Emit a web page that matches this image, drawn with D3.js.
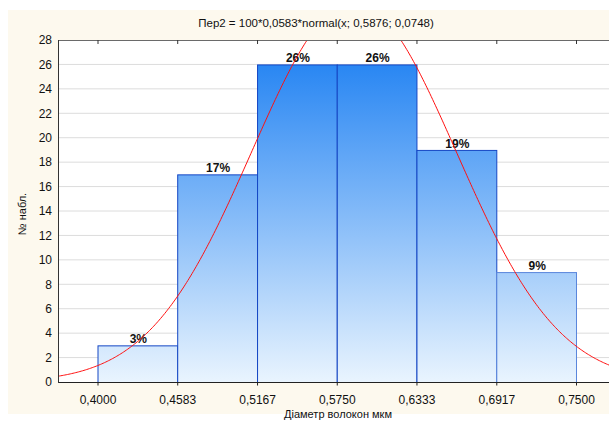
<!DOCTYPE html>
<html>
<head>
<meta charset="utf-8">
<script src="https://cdn.jsdelivr.net/npm/d3@7"></script>
<style>
  body { margin: 0; background: #fff; }
  svg { display: block; font-family: 'Liberation Sans', Arial, sans-serif; }
</style>
</head>
<body>
<div id="chart"></div>
<script>
// histogram bins (left edges) and counts
const binEdges = [0.4000, 0.4583, 0.5167, 0.5750, 0.6333, 0.6917, 0.7500]
const counts = [3, 17, 26, 26, 19, 9]
const percents = ['3%', '17%', '26%', '26%', '19%', '9%']
const xTickLabels = ['0,4000', '0,4583', '0,5167', '0,5750', '0,6333', '0,6917', '0,7500']
const yTicks = [0, 2, 4, 6, 8, 10, 12, 14, 16, 18, 20, 22, 24, 26, 28]

// fitted normal from the title
const fitN = 100
const fitWidth = 0.0583
const fitMean = 0.5876
const fitSd = 0.0748

const titleText = 'Пер2 = 100*0,0583*normal(x; 0,5876; 0,0748)'
const xTitle = 'Діаметр волокон мкм'
const yTitle = '№ набл.'

const w = 609
const h = 421
const plot = { left: 58, top: 40, right: 609, bottom: 382 }

const svg = d3.select('#chart').append('svg')
  .attr('width', w)
  .attr('height', h)

const defs = svg.append('defs')
const grad = defs.append('linearGradient')
  .attr('id', 'barGrad')
  .attr('gradientUnits', 'userSpaceOnUse')
  .attr('x1', 0).attr('x2', 0)
  .attr('y1', plot.top).attr('y2', plot.bottom)
grad.append('stop').attr('offset', '0%').attr('stop-color', '#1a7ef2')
grad.append('stop').attr('offset', '100%').attr('stop-color', '#e9f4fe')

defs.append('clipPath').attr('id', 'plotClip')
  .append('rect')
  .attr('x', plot.left).attr('y', plot.top)
  .attr('width', plot.right - plot.left).attr('height', plot.bottom - plot.top)

// cream panel
svg.append('rect')
  .attr('x', 8).attr('y', 10)
  .attr('width', w - 8).attr('height', 404)
  .attr('fill', '#fdf9ee')

svg.append('rect')
  .attr('x', plot.left).attr('y', plot.top)
  .attr('width', plot.right - plot.left).attr('height', plot.bottom - plot.top)
  .attr('fill', '#fff')

const x = d3.scaleLinear().domain([0.4, 0.75]).range([97.5, 576])
const y = d3.scaleLinear().domain([0, 28]).range([plot.bottom, plot.top])

// grid
svg.append('g')
  .selectAll('line')
  .data(yTicks.filter(d => d > 0 && d < 28))
  .enter().append('line')
  .attr('x1', plot.left).attr('x2', plot.right)
  .attr('y1', d => y(d)).attr('y2', d => y(d))
  .attr('stroke', '#dcdcdc')
  .attr('stroke-width', 1)

// bars
const bars = counts.map((c, i) => ({ x0: binEdges[i], x1: binEdges[i + 1], c: c, p: percents[i] }))
svg.append('g')
  .selectAll('rect')
  .data(bars)
  .enter().append('rect')
  .attr('x', d => x(d.x0) + 0.5)
  .attr('y', d => y(d.c) + 0.5)
  .attr('width', d => x(d.x1) - x(d.x0))
  .attr('height', d => y(0) - y(d.c))
  .attr('fill', 'url(#barGrad)')
  .attr('stroke', (d, i) => i === bars.length - 1 ? '#5a86dc' : '#1446c4')
  .attr('stroke-width', 1)

// percent labels
svg.append('g')
  .selectAll('text')
  .data(bars)
  .enter().append('text')
  .attr('x', d => (x(d.x0) + x(d.x1)) / 2 + 1)
  .attr('y', d => y(d.c) - 2)
  .attr('text-anchor', 'middle')
  .attr('font-size', 12)
  .attr('font-weight', 'bold')
  .attr('fill', '#111')
  .text(d => d.p)

// fitted normal curve
const pdf = v => fitN * fitWidth * Math.exp(-0.5 * Math.pow((v - fitMean) / fitSd, 2)) / (fitSd * Math.sqrt(2 * Math.PI))
const xs = d3.range(x.invert(plot.left), x.invert(plot.right) + 0.001, 0.001)
const line = d3.line()
  .x(d => x(d))
  .y(d => y(pdf(d)))
  .curve(d3.curveMonotoneX)
svg.append('path')
  .datum(xs)
  .attr('clip-path', 'url(#plotClip)')
  .attr('d', line)
  .attr('fill', 'none')
  .attr('stroke', '#ff1010')
  .attr('stroke-width', 1)

// axes frame
svg.append('line')
  .attr('x1', plot.left).attr('x2', plot.right)
  .attr('y1', plot.top + 0.5).attr('y2', plot.top + 0.5)
  .attr('stroke', '#6a6a6a')
svg.append('line')
  .attr('x1', plot.left).attr('x2', plot.right)
  .attr('y1', plot.bottom + 0.5).attr('y2', plot.bottom + 0.5)
  .attr('stroke', '#222')
svg.append('line')
  .attr('x1', plot.left + 0.5).attr('x2', plot.left + 0.5)
  .attr('y1', plot.top).attr('y2', plot.bottom + 1)
  .attr('stroke', '#333')

// y axis labels
const yAxis = d3.axisLeft(y).tickValues(yTicks).tickSize(0).tickPadding(6)
const gy = svg.append('g')
  .attr('transform', 'translate(' + plot.left + ',0)')
  .call(yAxis)
gy.select('.domain').remove()
gy.selectAll('text').attr('font-size', 12).attr('fill', '#111').attr('font-family', 'Liberation Sans, Arial, sans-serif')

// x axis labels
const xAxis = d3.axisBottom(x).tickValues(binEdges).tickFormat((d, i) => xTickLabels[i]).tickSize(3).tickPadding(10)
const gx = svg.append('g')
  .attr('transform', 'translate(0,' + (plot.bottom + 0.5) + ')')
  .call(xAxis)
gx.select('.domain').remove()
gx.selectAll('line').attr('stroke', '#222')
gx.selectAll('text').attr('font-size', 12).attr('fill', '#111').attr('font-family', 'Liberation Sans, Arial, sans-serif')

// top ticks
svg.append('g')
  .selectAll('line')
  .data(binEdges)
  .enter().append('line')
  .attr('x1', d => x(d) + 0.5).attr('x2', d => x(d) + 0.5)
  .attr('y1', plot.top).attr('y2', plot.top + 4)
  .attr('stroke', '#333')

// titles
svg.append('text')
  .attr('x', 316).attr('y', 27)
  .attr('text-anchor', 'middle')
  .attr('font-size', 11.5)
  .attr('fill', '#111')
  .text(titleText)

svg.append('text')
  .attr('transform', 'translate(26,' + 214 + ') rotate(-90)')
  .attr('text-anchor', 'middle')
  .attr('font-size', 11)
  .attr('fill', '#111')
  .text(yTitle)

svg.append('text')
  .attr('x', 338).attr('y', 418)
  .attr('text-anchor', 'middle')
  .attr('font-size', 11)
  .attr('fill', '#111')
  .text(xTitle)
</script>
</body>
</html>
